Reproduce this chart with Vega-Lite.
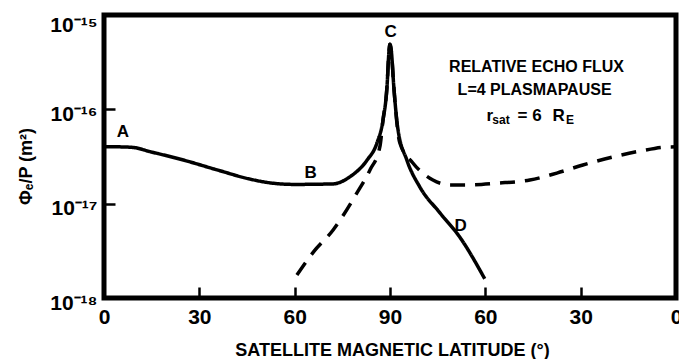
{
  "$schema": "https://vega.github.io/schema/vega-lite/v6.json",
  "width": 572,
  "height": 283,
  "autosize": {"type": "none"},
  "padding": {"left": 104, "top": 15, "right": 3, "bottom": 61},
  "background": "white",
  "config": {
    "view": {"stroke": "black", "strokeWidth": 5},
    "font": "Liberation Sans",
    "axis": {
      "domain": false,
      "grid": false,
      "ticks": true,
      "tickColor": "black",
      "tickWidth": 2.5,
      "labelColor": "black",
      "titleColor": "black",
      "labelFont": "Liberation Sans",
      "labelFontWeight": "bold",
      "labelFontSize": 21,
      "labelFlush": false,
      "labelOverlap": false
    }
  },
  "datasets": {
    "curves": [
      {"lat": 0, "flux": 4.0e-17, "curve": "solid"},
      {"lat": 5, "flux": 4.0e-17, "curve": "solid"},
      {"lat": 9, "flux": 3.95e-17, "curve": "solid"},
      {"lat": 14.5, "flux": 3.56e-17, "curve": "solid"},
      {"lat": 25, "flux": 2.9e-17, "curve": "solid"},
      {"lat": 35.6, "flux": 2.28e-17, "curve": "solid"},
      {"lat": 46, "flux": 1.82e-17, "curve": "solid"},
      {"lat": 53, "flux": 1.65e-17, "curve": "solid"},
      {"lat": 60, "flux": 1.6e-17, "curve": "solid"},
      {"lat": 72, "flux": 1.62e-17, "curve": "solid"},
      {"lat": 77.4, "flux": 1.93e-17, "curve": "solid"},
      {"lat": 82.8, "flux": 2.9e-17, "curve": "solid"},
      {"lat": 85.9, "flux": 4.4e-17, "curve": "solid"},
      {"lat": 87.8, "flux": 7.7e-17, "curve": "solid"},
      {"lat": 89.05, "flux": 1.73e-16, "curve": "solid"},
      {"lat": 89.7, "flux": 4.2e-16, "curve": "solid"},
      {"lat": 90, "flux": 4.9e-16, "curve": "solid"},
      {"lat": 90.4, "flux": 4.2e-16, "curve": "solid"},
      {"lat": 91.2, "flux": 1.73e-16, "curve": "solid"},
      {"lat": 92.4, "flux": 6.5e-17, "curve": "solid"},
      {"lat": 95.3, "flux": 2.9e-17, "curve": "solid"},
      {"lat": 99.4, "flux": 1.5e-17, "curve": "solid"},
      {"lat": 105.7, "flux": 8.0e-18, "curve": "solid"},
      {"lat": 112, "flux": 4.4e-18, "curve": "solid"},
      {"lat": 119.8, "flux": 1.6e-18, "curve": "solid"},
      {"lat": 60.7, "flux": 1.75e-18, "curve": "dashed"},
      {"lat": 66, "flux": 3.1e-18, "curve": "dashed"},
      {"lat": 72.1, "flux": 5.26e-18, "curve": "dashed"},
      {"lat": 79.6, "flux": 1.3e-17, "curve": "dashed"},
      {"lat": 83.7, "flux": 2.28e-17, "curve": "dashed"},
      {"lat": 86.8, "flux": 3.99e-17, "curve": "dashed"},
      {"lat": 87.8, "flux": 7.7e-17, "curve": "dashed"},
      {"lat": 89.05, "flux": 1.73e-16, "curve": "dashed"},
      {"lat": 89.7, "flux": 4.2e-16, "curve": "dashed"},
      {"lat": 90, "flux": 4.9e-16, "curve": "dashed"},
      {"lat": 90.4, "flux": 4.2e-16, "curve": "dashed"},
      {"lat": 91.2, "flux": 1.73e-16, "curve": "dashed"},
      {"lat": 93.1, "flux": 4.4e-17, "curve": "dashed"},
      {"lat": 97.2, "flux": 2.7e-17, "curve": "dashed"},
      {"lat": 103.5, "flux": 1.78e-17, "curve": "dashed"},
      {"lat": 108.9, "flux": 1.58e-17, "curve": "dashed"},
      {"lat": 114.2, "flux": 1.58e-17, "curve": "dashed"},
      {"lat": 123.7, "flux": 1.65e-17, "curve": "dashed"},
      {"lat": 134, "flux": 1.78e-17, "curve": "dashed"},
      {"lat": 142.5, "flux": 2.11e-17, "curve": "dashed"},
      {"lat": 150.7, "flux": 2.57e-17, "curve": "dashed"},
      {"lat": 160.2, "flux": 3.13e-17, "curve": "dashed"},
      {"lat": 168.7, "flux": 3.61e-17, "curve": "dashed"},
      {"lat": 177.2, "flux": 3.99e-17, "curve": "dashed"},
      {"lat": 180, "flux": 4.0e-17, "curve": "dashed"}
    ],
    "letters": [
      {"lat": 5.98, "flux": 5.82e-17, "label": "A"},
      {"lat": 65.0, "flux": 2.11e-17, "label": "B"},
      {"lat": 90.2, "flux": 6.68e-16, "label": "C"},
      {"lat": 112.2, "flux": 5.73e-18, "label": "D"}
    ],
    "notes": [
      {"lat": 136.1, "flux": 2.49e-16, "label": "RELATIVE ECHO FLUX"},
      {"lat": 135.5, "flux": 1.42e-16, "label": "L=4 PLASMAPAUSE"}
    ],
    "noteMain": [
      {"lat": 120.35, "flux": 7.51e-17, "label": "r"},
      {"lat": 130.1, "flux": 7.51e-17, "label": "="},
      {"lat": 134.8, "flux": 7.51e-17, "label": "6"},
      {"lat": 141.1, "flux": 7.51e-17, "label": "R"}
    ],
    "noteSub": [
      {"lat": 122.2, "flux": 6.99e-17, "label": "sat"},
      {"lat": 145.4, "flux": 6.99e-17, "label": "E"}
    ]
  },
  "encoding": {
    "x": {
      "field": "lat",
      "type": "quantitative",
      "scale": {"domain": [0, 180], "nice": false, "zero": false},
      "axis": {
        "values": [0, 30, 60, 90, 120, 150, 180],
        "labelExpr": "datum.value <= 90 ? datum.value : 180 - datum.value",
        "tickSize": -11,
        "labelPadding": 19,
        "title": "SATELLITE  MAGNETIC LATITUDE (°)",
        "titleFont": "Liberation Sans",
        "titleFontSize": 18,
        "titleFontWeight": "bold",
        "titleBaseline": "alphabetic",
        "titleY": 57,
        "titleX": 288
      }
    },
    "y": {
      "field": "flux",
      "type": "quantitative",
      "scale": {"type": "log", "domain": [1e-18, 1e-15], "nice": false},
      "axis": {
        "values": [1e-18, 1e-17, 1e-16, 1e-15],
        "labelExpr": "datum.value > 5e-16 ? '10⁻¹⁵' : datum.value > 5e-17 ? '10⁻¹⁶' : datum.value > 5e-18 ? '10⁻¹⁷' : '10⁻¹⁸'",
        "tickSize": -11,
        "labelPadding": 18,
        "labelOffset": {"condition": {"test": "datum.value > 5e-16", "value": 10}, "value": 5},
        "title": "Φₑ/P (m²)",
        "titleFont": "Liberation Sans",
        "titleFontSize": 18,
        "titleFontWeight": "bold",
        "titleAngle": 270,
        "titleBaseline": "middle",
        "titleAlign": "center",
        "titleX": -78,
        "titleY": 151
      }
    }
  },
  "layer": [
    {
      "data": {"name": "curves"},
      "mark": {"type": "line", "color": "black", "strokeWidth": 3.5, "interpolate": "monotone", "strokeCap": "butt"},
      "encoding": {
        "strokeDash": {
          "field": "curve",
          "type": "nominal",
          "scale": {"domain": ["solid", "dashed"], "range": [[1, 0], [15, 10]]},
          "legend": null
        }
      }
    },
    {
      "data": {"name": "letters"},
      "mark": {"type": "text", "font": "Liberation Sans", "fontWeight": "bold", "fontSize": 17, "color": "black", "align": "center", "baseline": "middle"},
      "encoding": {"text": {"field": "label"}}
    },
    {
      "data": {"name": "notes"},
      "mark": {"type": "text", "font": "Liberation Sans", "fontWeight": "bold", "fontSize": 16, "color": "black", "align": "center", "baseline": "alphabetic"},
      "encoding": {"text": {"field": "label"}}
    },
    {
      "data": {"name": "noteMain"},
      "mark": {"type": "text", "font": "Liberation Sans", "fontWeight": "bold", "fontSize": 17, "color": "black", "align": "left", "baseline": "alphabetic"},
      "encoding": {"text": {"field": "label"}}
    },
    {
      "data": {"name": "noteSub"},
      "mark": {"type": "text", "font": "Liberation Sans", "fontWeight": "bold", "fontSize": 12, "color": "black", "align": "left", "baseline": "alphabetic"},
      "encoding": {"text": {"field": "label"}}
    }
  ]
}
